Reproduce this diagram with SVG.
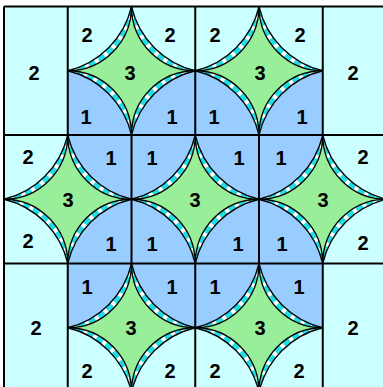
<svg xmlns="http://www.w3.org/2000/svg" xmlns:xlink="http://www.w3.org/1999/xlink" width="383" height="387" viewBox="0 0 383 387">
<style>
.lbl{font-family:"Liberation Sans",Arial,sans-serif;font-weight:bold;font-size:20px;fill:#000;text-anchor:middle}
.grid{stroke:#000;stroke-width:2;fill:none}
.edge{fill:none;stroke:#000;stroke-width:1.3}
</style>
<defs>
<path id="inner" d="M-64 0A64 64 0 0 0 0-64A64 64 0 0 0 64 0A64 64 0 0 0 0 64A64 64 0 0 0-64 0Z"/>
<path id="outer" d="M-64 0A86 86 0 0 0 0-64A86 86 0 0 0 64 0A86 86 0 0 0 0 64A86 86 0 0 0-64 0Z"/>
<clipPath id="ring"><path clip-rule="evenodd" d="M-64 0A86 86 0 0 0 0-64A86 86 0 0 0 64 0A86 86 0 0 0 0 64A86 86 0 0 0-64 0ZM-64 0A64 64 0 0 0 0-64A64 64 0 0 0 64 0A64 64 0 0 0 0 64A64 64 0 0 0-64 0Z"/></clipPath>
<g id="star">
<use xlink:href="#outer" fill="#ffffff"/>
<g clip-path="url(#ring)">
<path d="M-64 0A73 73 0 0 0 0-64A73 73 0 0 0 64 0A73 73 0 0 0 0 64A73 73 0 0 0-64 0Z" fill="none" stroke="#22dde6" stroke-width="10" stroke-dasharray="7 4"/>
</g>
<use xlink:href="#inner" fill="#99ee99"/>
<use xlink:href="#outer" class="edge"/>
<use xlink:href="#inner" class="edge"/>
</g>
</defs>
<rect x="0" y="0" width="383" height="387" fill="#ffffff"/>
<g id="cells">
<rect x="4" y="6.5" width="380" height="381" fill="#ccffff"/>
<rect x="67.75" y="70.75" width="255" height="257" fill="#99ccff"/>
</g>
<g id="connectors" class="grid">
<path d="M4 6.5H384M4 135H384M4 263.5H384M4 6.5V388"/>
<path d="M67.75 6.5V135M195.25 6.5V135M322.75 6.5V135"/>
<path d="M131.5 135V263.5M259 135V263.5"/>
<path d="M67.75 263.5V388M195.25 263.5V388M322.75 263.5V388"/>
</g>
<g id="star-t1"><use xlink:href="#star" transform="translate(131.5 70.75) scale(0.996 1.004)"/><text class="lbl" x="130" y="80">3</text></g>
<g id="star-t2"><use xlink:href="#star" transform="translate(259 70.75) scale(0.996 1.004)"/><text class="lbl" x="260" y="80">3</text></g>
<g id="star-m1"><use xlink:href="#star" transform="translate(67.75 199.25) scale(0.996 1.004)"/><text class="lbl" x="68" y="207">3</text></g>
<g id="star-m2"><use xlink:href="#star" transform="translate(195.25 199.25) scale(0.996 1.004)"/><text class="lbl" x="195" y="207">3</text></g>
<g id="star-m3"><use xlink:href="#star" transform="translate(322.75 199.25) scale(0.996 1.004)"/><text class="lbl" x="323" y="207">3</text></g>
<g id="star-b1"><use xlink:href="#star" transform="translate(131.5 327.75) scale(0.996 1.004)"/><text class="lbl" x="131" y="335">3</text></g>
<g id="star-b2"><use xlink:href="#star" transform="translate(259 327.75) scale(0.996 1.004)"/><text class="lbl" x="260" y="335">3</text></g>
<g id="labels">
<text class="lbl" x="34" y="80">2</text>
<text class="lbl" x="87" y="42">2</text>
<text class="lbl" x="170" y="42">2</text>
<text class="lbl" x="215" y="42">2</text>
<text class="lbl" x="300" y="42">2</text>
<text class="lbl" x="353" y="80">2</text>
<text class="lbl" x="86" y="124">1</text>
<text class="lbl" x="172" y="124">1</text>
<text class="lbl" x="214" y="124">1</text>
<text class="lbl" x="302" y="124">1</text>
<text class="lbl" x="28" y="164">2</text>
<text class="lbl" x="111" y="165">1</text>
<text class="lbl" x="152" y="165">1</text>
<text class="lbl" x="239" y="165">1</text>
<text class="lbl" x="281" y="165">1</text>
<text class="lbl" x="363" y="164">2</text>
<text class="lbl" x="28" y="248">2</text>
<text class="lbl" x="111" y="251">1</text>
<text class="lbl" x="152" y="251">1</text>
<text class="lbl" x="238" y="251">1</text>
<text class="lbl" x="282" y="251">1</text>
<text class="lbl" x="363" y="250">2</text>
<text class="lbl" x="87" y="294">1</text>
<text class="lbl" x="172" y="294">1</text>
<text class="lbl" x="215" y="294">1</text>
<text class="lbl" x="299" y="294">1</text>
<text class="lbl" x="36" y="335">2</text>
<text class="lbl" x="353" y="335">2</text>
<text class="lbl" x="87" y="378">2</text>
<text class="lbl" x="170" y="378">2</text>
<text class="lbl" x="215" y="378">2</text>
<text class="lbl" x="299" y="378">2</text>
</g>
</svg>
